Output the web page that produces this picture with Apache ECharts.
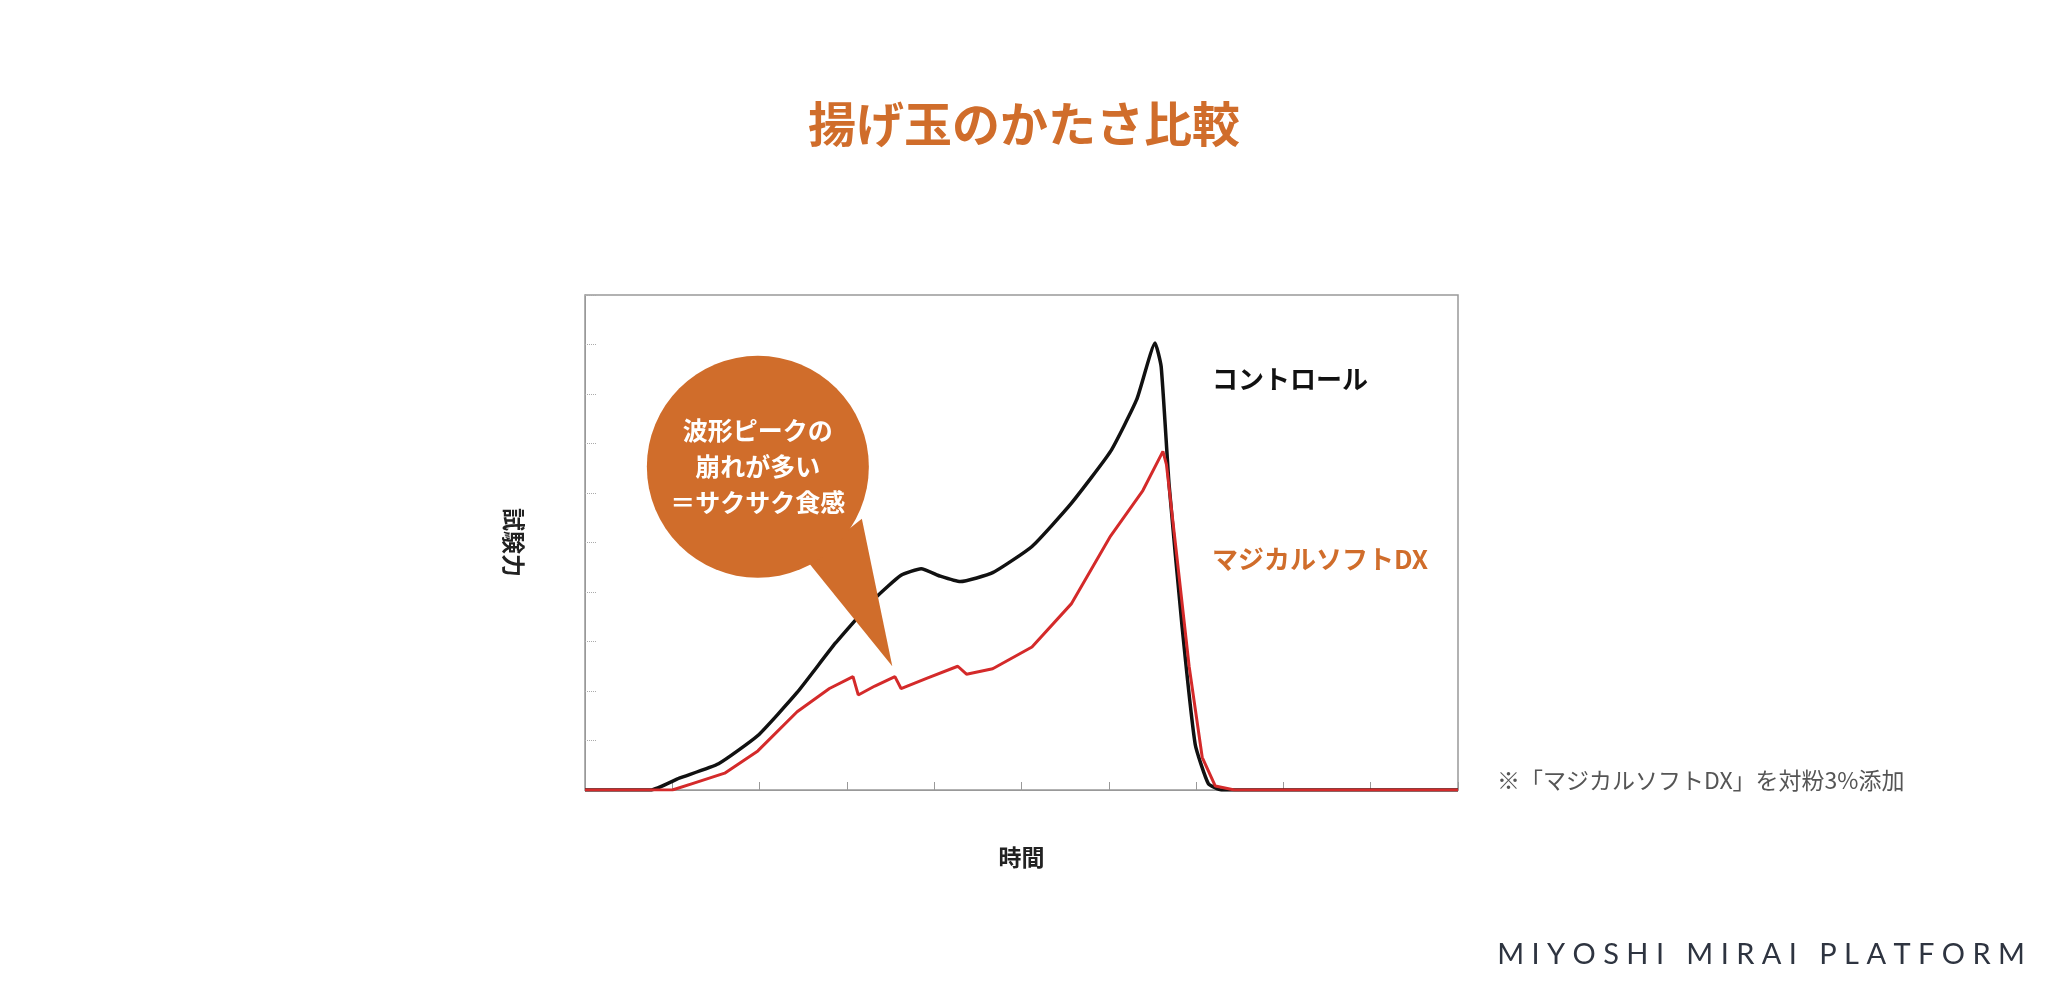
<!DOCTYPE html><html><head><meta charset="utf-8"><script src="https://cdn.jsdelivr.net/npm/echarts@6/dist/echarts.min.js"></script>
<style>body{margin:0}#c{width:2048px;height:1000px}</style></head><body><div id="c"></div><script>
const controlX=[0,0.75,1.08,1.53,1.98,2.43,2.87,3.32,3.62,3.85,4.07,4.3,4.67,5.12,5.57,6.02,6.32,6.53,6.6,6.69,6.84,6.99,7.14,7.29,10];
const controlY=[0,0,0.24,0.53,1.1,1.97,2.97,3.87,4.34,4.47,4.32,4.21,4.39,4.92,5.79,6.84,7.89,9.03,8.55,6.18,3.29,0.92,0.13,0,0];
const magicX=[0,1.0,1.23,1.6,1.98,2.43,2.8,3.07,3.13,3.32,3.55,3.62,3.92,4.27,4.37,4.67,5.12,5.57,6.02,6.39,6.62,6.66,6.77,6.92,7.07,7.22,7.44,10];
const magicY=[0,0,0.13,0.34,0.79,1.58,2.05,2.29,1.92,2.1,2.29,2.05,2.26,2.5,2.34,2.45,2.89,3.76,5.13,6.05,6.84,6.58,4.87,2.5,0.66,0.08,0,0];
const seriesNames=['コントロール','マジカルソフトDX'];
const calloutLines=['波形ピークの','崩れが多い','＝サクサク食感'];
const zip=(a,b)=>a.map((v,i)=>[v,b[i]]);
const ch=echarts.init(document.getElementById('c'));
const orange='#d06d2b';
ch.setOption({
 animation:false,
 title:{text:'揚げ玉のかたさ比較',left:'center',top:95,textStyle:{color:orange,fontSize:48,fontWeight:'bold',fontFamily:'Noto Sans CJK JP'}},
 grid:{left:585,right:590,top:295,bottom:210,show:true,borderColor:'#999',borderWidth:1.5},
 xAxis:{type:'value',min:0,max:10,interval:1,name:'時間',nameLocation:'middle',nameGap:56,
  nameTextStyle:{fontSize:23,fontWeight:'bold',color:'#222',fontFamily:'Noto Sans CJK JP'},
  axisLine:{lineStyle:{color:'#999'}},axisTick:{inside:true,length:8,lineStyle:{color:'#999'}},axisLabel:{show:false},splitLine:{show:false}},
 yAxis:{type:'value',min:0,max:10,interval:1,name:'試験力',nameLocation:'middle',nameGap:60,nameRotate:-90,
  nameTextStyle:{fontSize:23,fontWeight:'bold',color:'#222',fontFamily:'Noto Sans CJK JP'},
  axisLine:{show:true,lineStyle:{color:'#999'}},axisTick:{inside:true,length:12,lineStyle:{color:'#aaa',type:'dotted'}},axisLabel:{show:false},splitLine:{show:false}},
 series:[
  {name:seriesNames[0],type:'line',data:zip(controlX,controlY),showSymbol:false,smooth:0.15,lineStyle:{color:'#111',width:3.5},z:2},
  {name:seriesNames[1],type:'line',data:zip(magicX,magicY),showSymbol:false,lineStyle:{color:'#d42a2a',width:3},z:3}
 ]
});
const c=ch.convertToPixel({gridIndex:0},[1.98,6.53]);
const tip=ch.convertToPixel({gridIndex:0},[3.52,2.5]);
const r=111;
ch.setOption({graphic:[
 {type:'polygon',shape:{points:[[c[0]+50,c[1]+95],[c[0]+104,c[1]+52],tip]},style:{fill:orange},z:10},
 {type:'circle',shape:{cx:c[0],cy:c[1],r:r},style:{fill:orange},z:10},
 {type:'text',x:c[0],y:c[1],z:11,style:{text:calloutLines.join('\n'),fill:'#fff',fontSize:25,fontWeight:'bold',lineHeight:36,align:'center',verticalAlign:'middle',fontFamily:'Noto Sans CJK JP'}},
 {type:'text',x:1212,y:379,style:{text:seriesNames[0],fill:'#111',fontSize:26,fontWeight:'bold',verticalAlign:'middle',fontFamily:'Noto Sans CJK JP'}},
 {type:'text',x:1212,y:559,style:{text:seriesNames[1],fill:orange,fontSize:26,fontWeight:'bold',verticalAlign:'middle',fontFamily:'Noto Sans CJK JP'}},
 {type:'text',x:1497,y:780,style:{text:'※「マジカルソフトDX」を対粉3%添加',fill:'#555',fontSize:23,verticalAlign:'middle',fontFamily:'Noto Sans CJK JP'}},
 {type:'text',x:2025,y:955,style:{text:'M I Y O S H I   M I R A I   P L A T F O R M',fill:'#2e3440',fontSize:29,align:'right',verticalAlign:'middle',fontFamily:'Lato'}}
]});
</script></body></html>
